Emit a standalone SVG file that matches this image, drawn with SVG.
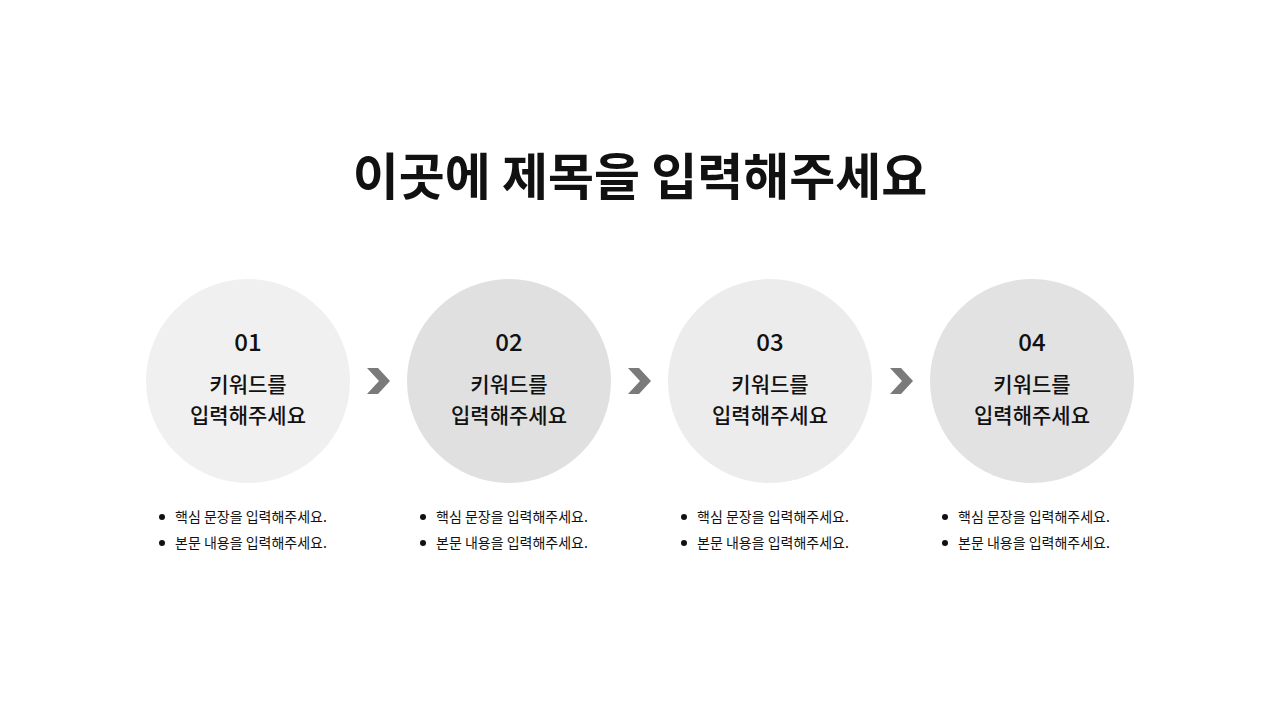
<svg xmlns="http://www.w3.org/2000/svg" width="1280" height="720" viewBox="0 0 1280 720">
<style>
text{font-family:"Noto Sans CJK KR","Noto Sans",sans-serif;fill:#111}
.num{font-size:24px;font-weight:500;text-anchor:middle}
.kw{font-size:21px;font-weight:500;text-anchor:middle}
.b{font-size:14px}
.chev{fill:#7a7a7a}
</style>
<rect width="1280" height="720" fill="#fff"/>
<text x="640" y="195" style="font-size:50px;font-weight:700;text-anchor:middle">이곳에 제목을 입력해주세요</text>
<defs>
<path id="ch" d="M0,0 H11 L23,13 L11,26 H0 L12,13 Z"/>
</defs>
<g id="connectors">
<use href="#ch" class="chev" x="367" y="368"/>
<use href="#ch" class="chev" x="628" y="368"/>
<use href="#ch" class="chev" x="890" y="368"/>
</g>
<g id="n1"><circle cx="248" cy="381" r="102" fill="#f0f0f0"/><text class="num" x="248" y="351">01</text><text class="kw" x="248" y="392">키워드를</text><text class="kw" x="248" y="423">입력해주세요</text>
<circle cx="162" cy="517" r="3" fill="#111"/><text class="b" x="175" y="522">핵심 문장을 입력해주세요.</text><circle cx="162" cy="543" r="3" fill="#111"/><text class="b" x="175" y="548">본문 내용을 입력해주세요.</text></g>
<g id="n2"><circle cx="509" cy="381" r="102" fill="#e0e0e0"/><text class="num" x="509" y="351">02</text><text class="kw" x="509" y="392">키워드를</text><text class="kw" x="509" y="423">입력해주세요</text>
<circle cx="423" cy="517" r="3" fill="#111"/><text class="b" x="436" y="522">핵심 문장을 입력해주세요.</text><circle cx="423" cy="543" r="3" fill="#111"/><text class="b" x="436" y="548">본문 내용을 입력해주세요.</text></g>
<g id="n3"><circle cx="770" cy="381" r="102" fill="#ececec"/><text class="num" x="770" y="351">03</text><text class="kw" x="770" y="392">키워드를</text><text class="kw" x="770" y="423">입력해주세요</text>
<circle cx="684" cy="517" r="3" fill="#111"/><text class="b" x="697" y="522">핵심 문장을 입력해주세요.</text><circle cx="684" cy="543" r="3" fill="#111"/><text class="b" x="697" y="548">본문 내용을 입력해주세요.</text></g>
<g id="n4"><circle cx="1032" cy="381" r="102" fill="#e2e2e2"/><text class="num" x="1032" y="351">04</text><text class="kw" x="1032" y="392">키워드를</text><text class="kw" x="1032" y="423">입력해주세요</text>
<circle cx="945" cy="517" r="3" fill="#111"/><text class="b" x="958" y="522">핵심 문장을 입력해주세요.</text><circle cx="945" cy="543" r="3" fill="#111"/><text class="b" x="958" y="548">본문 내용을 입력해주세요.</text></g>
</svg>
